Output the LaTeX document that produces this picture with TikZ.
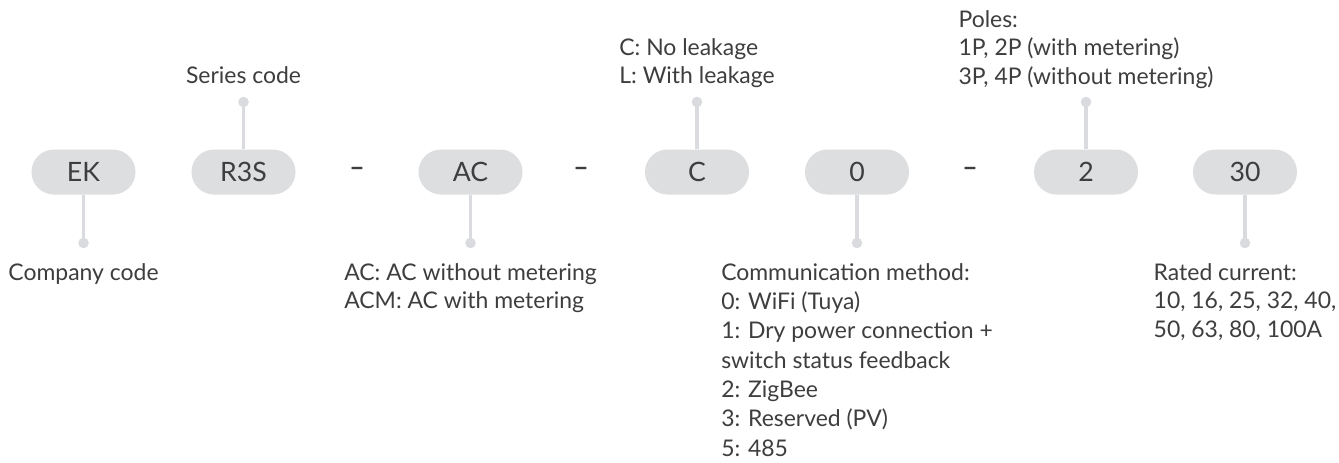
\documentclass[tikz,border=0pt]{standalone}
\usepackage{fontspec}
\setmainfont{Lato}
\usetikzlibrary{shapes.misc}
\definecolor{pillc}{HTML}{DDDEE0}
\definecolor{stemc}{HTML}{DADBDE}
\definecolor{txtc}{HTML}{3E3E3E}
\newcommand\linesblock[1]{\vtop{\halign{##\hfil\cr #1\crcr}}}
\begin{document}
\begin{tikzpicture}[x=0.75pt,y=-0.75pt,
  pill/.style={rounded rectangle, fill=pillc, minimum width=78pt, minimum height=33.75pt, inner sep=0pt, text=txtc, font=\fontsize{20}{24}\selectfont},
  dotc/.style={circle, fill=stemc, inner sep=0pt, minimum size=7.9pt},
  stemline/.style={draw=stemc, line width=2.4pt},
  lab/.style={text=txtc, font=\fontsize{17.2}{21.5}\selectfont, inner sep=0pt, anchor=base},
  dashc/.style={text=txtc, font=\fontsize{20}{24}\selectfont\bfseries, inner sep=0pt}]
\fill[white] (0,0) rectangle (1339,462);
\useasboundingbox (0,0) rectangle (1339,462);
% pills
\node[pill] (ek)  at (83.5,172) {EK};
\node[pill] (r3s) at (243.5,172) {R3S};
\node[dashc] (d1) at (357,172) {–};
\node[pill] (ac)  at (470.5,172) {AC};
\node[dashc] (d2) at (581,172) {–};
\node[pill] (c)   at (697,172) {C};
\node[pill] (zero) at (857,172) {0};
\node[dashc] (d3) at (970,172) {–};
\node[pill] (two) at (1086,172) {2};
\node[pill] (thirty) at (1245,172) {30};
% dots
\node[dotc] (ekdot) at (83.5,243) {};
\node[dotc] (r3sdot) at (243.5,102) {};
\node[dotc] (acdot) at (470.5,243) {};
\node[dotc] (cdot) at (697,102) {};
\node[dotc] (zerodot) at (857,243) {};
\node[dotc] (twodot) at (1086,102) {};
\node[dotc] (thirtydot) at (1245,243) {};
% stems
\draw[stemline] (ek.south) -- (ekdot.center);
\draw[stemline] (r3s.north) -- (r3sdot.center);
\draw[stemline] (ac.south) -- (acdot.center);
\draw[stemline] (c.north) -- (cdot.center);
\draw[stemline] (zero.south) -- (zerodot.center);
\draw[stemline] (two.north) -- (twodot.center);
\draw[stemline] (thirty.south) -- (thirtydot.center);
% labels
\node[lab] (l1) at (83.5,280) {\linesblock{Company code}};
\node[lab] (l2) at (243.5,83) {\linesblock{Series code}};
\node[lab] (l3) at (470.5,280) {\linesblock{AC: AC without metering\cr ACM: AC with metering}};
\node[lab] (l4) at (697,55) {\linesblock{C: No leakage\cr L: With leakage}};
\node[lab] (l5) at (857,280) {\baselineskip=22pt\linesblock{Communication method:\cr 0: WiFi (Tuya)\cr 1: Dry power connection +\cr switch status feedback\cr 2: ZigBee\cr 3: Reserved (PV)\cr 5: 485}};
\node[lab] (l6) at (1086,27) {\linesblock{Poles:\cr 1P, 2P (with metering)\cr 3P, 4P (without metering)}};
\node[lab] (l7) at (1245,280) {\linesblock{Rated current:\cr 10, 16, 25, 32, 40,\cr 50, 63, 80, 100A}};
\end{tikzpicture}
\end{document}
